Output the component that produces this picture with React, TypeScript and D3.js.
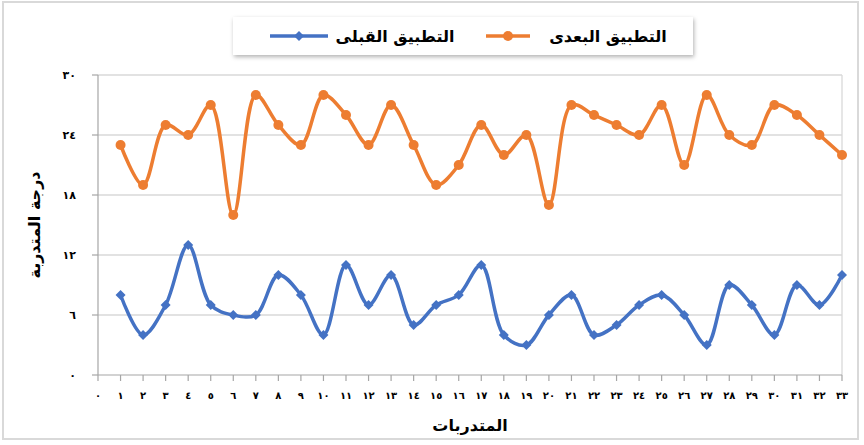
import * as d3 from "d3";

const W = 864;
const H = 445;
const MARGIN = { top: 75, right: 22, bottom: 70, left: 98 };

// categories 1..33 (المتدربات)
const trainees = d3.range(1, 34);
const postScores = [23, 19, 25, 24, 27, 16, 28, 25, 23, 28, 26, 23, 27, 23, 19, 21, 25, 22, 24, 17, 27, 26, 25, 24, 27, 21, 28, 24, 23, 27, 26, 24, 22];
const preScores = [8, 4, 7, 13, 7, 6, 6, 10, 8, 4, 11, 7, 10, 5, 7, 8, 11, 4, 3, 6, 8, 4, 5, 7, 8, 6, 3, 9, 7, 4, 9, 7, 10];
const yTicks = [0, 6, 12, 18, 24, 30];
const xTicks = d3.range(0, 34);

const ORANGE = "#ED7D31";
const BLUE = "#4472C4";
const FONT = '"DejaVu Sans", sans-serif';

const arabicDigits = (n: number) =>
    String(n).replace(/[0-9]/g, (d) => "٠١٢٣٤٥٦٧٨٩"[+d]);

export default function App() {
    const boundsW = W - MARGIN.left - MARGIN.right;
    const boundsH = H - MARGIN.top - MARGIN.bottom;

    const xScale = d3.scaleLinear().domain([0, 33]).range([0, boundsW]);
    const yScale = d3.scaleLinear().domain([0, 30]).range([boundsH, 0]);

    const line = d3
        .line<number>()
        .x((_, i) => xScale(trainees[i]))
        .y((d) => yScale(d))
        .curve(d3.curveCatmullRom.alpha(0.5));

    // excel style diamond = square turned 45deg
    const diamond = d3.symbol(d3.symbolSquare, 50)() as string;

    return (
        <div style={{ position: "absolute", left: 0, top: 0 }}>
            <svg width={W} height={H} style={{ display: "block", background: "#fff" }}>
                <defs>
                    <filter id="shadow" x="-10%" y="-30%" width="120%" height="170%">
                        <feDropShadow dx="1" dy="2" stdDeviation="2" floodColor="#000" floodOpacity="0.3" />
                    </filter>
                </defs>
                <rect x={3} y={2} width={855} height={437} fill="none" stroke="#d9d9d9" strokeWidth={2} />

                {/* legend */}
                <g>
                    <rect x={233} y={17} width={460} height={38} fill="#fff" filter="url(#shadow)" />
                    <line x1={486} x2={530} y1={36} y2={36} stroke={ORANGE} strokeWidth={3.5} />
                    <circle cx={508} cy={36} r={5} fill={ORANGE} />
                    <text x={608} y={42} textAnchor="middle" fontFamily={FONT} fontWeight="bold" fontSize={16}>
                        التطبيق البعدى
                    </text>
                    <line x1={270} x2={328} y1={36} y2={36} stroke={BLUE} strokeWidth={3.5} />
                    <path d={diamond} transform="translate(299,36) rotate(45)" fill={BLUE} />
                    <text x={395} y={42} textAnchor="middle" fontFamily={FONT} fontWeight="bold" fontSize={16}>
                        التطبيق القبلى
                    </text>
                </g>

                <g transform={`translate(${MARGIN.left},${MARGIN.top})`}>
                    {/* grid */}
                    {yTicks.filter((t) => t > 0).map((t) => (
                        <line key={t} x1={0} x2={boundsW} y1={yScale(t)} y2={yScale(t)} stroke="#d9d9d9" strokeWidth={1.3} />
                    ))}
                    <line x1={boundsW} x2={boundsW} y1={0} y2={boundsH} stroke="#d9d9d9" strokeWidth={1.3} />
                    {/* y axis */}
                    <line x1={0} x2={0} y1={0} y2={boundsH} stroke="#a6a6a6" strokeWidth={1.2} />
                    {yTicks.map((t) => (
                        <g key={t} transform={`translate(0,${yScale(t)})`}>
                            <line x1={-6} x2={0} stroke="#a6a6a6" strokeWidth={1.2} />
                            <text x={-22} dy="0.35em" textAnchor="end" fontFamily={FONT} fontWeight="bold" fontSize={11}>
                                {arabicDigits(t)}
                            </text>
                        </g>
                    ))}
                    {/* x axis */}
                    <line x1={0} x2={boundsW} y1={boundsH} y2={boundsH} stroke="#a6a6a6" strokeWidth={1.2} />
                    {xTicks.map((t) => (
                        <g key={t} transform={`translate(${xScale(t)},${boundsH})`}>
                            <line y1={0} y2={6} stroke="#a6a6a6" strokeWidth={1.2} />
                            <text y={24} textAnchor="middle" fontFamily={FONT} fontWeight="bold" fontSize={10}>
                                {arabicDigits(t)}
                            </text>
                        </g>
                    ))}

                    {/* series */}
                    <path d={line(postScores) ?? ""} fill="none" stroke={ORANGE} strokeWidth={3.5} />
                    {postScores.map((v, i) => (
                        <circle key={i} cx={xScale(trainees[i])} cy={yScale(v)} r={5} fill={ORANGE} />
                    ))}
                    <path d={line(preScores) ?? ""} fill="none" stroke={BLUE} strokeWidth={3.5} />
                    {preScores.map((v, i) => (
                        <path key={i} d={diamond} transform={`translate(${xScale(trainees[i])},${yScale(v)}) rotate(45)`} fill={BLUE} />
                    ))}
                </g>

                {/* axis titles */}
                <text x={470} y={431} textAnchor="middle" fontFamily={FONT} fontWeight="bold" fontSize={16}>
                    المتدربات
                </text>
                <text transform="translate(40,225) rotate(-90)" textAnchor="middle" fontFamily={FONT} fontWeight="bold" fontSize={16}>
                    درجة المتدربة
                </text>
            </svg>
        </div>
    );
}
